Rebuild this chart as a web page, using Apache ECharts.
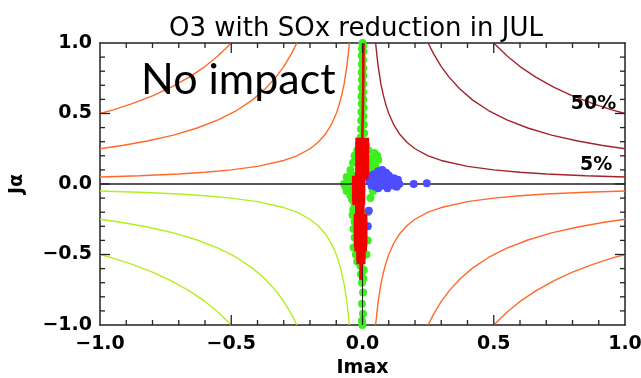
<!DOCTYPE html>
<html><head><meta charset="utf-8">
<script src="https://cdn.jsdelivr.net/npm/echarts@6/dist/echarts.min.js"></script>
<style>html,body{margin:0;padding:0;background:#fff}#c{width:641px;height:378px}</style>
</head><body><div id="c"></div>
<script>
const titleText = 'O3 with SOx reduction in JUL';
const xName = 'Imax';
const yName = 'Jα';
const tickValues = [-1, -0.5, 0, 0.5, 1];
const tickLabels = ['\u22121.0', '\u22120.5', '0.0', '0.5', '1.0'];
const majorTicks = [-0.5, 0, 0.5];
const minorTicks = [-0.9, -0.8, -0.7, -0.6, -0.4, -0.3, -0.2, -0.1, 0.1, 0.2, 0.3, 0.4, 0.6, 0.7, 0.8, 0.9];

// Contour lines read in the upper-right quadrant (the picture shows the same shapes mirrored in the other three)
const c05x = [0.05, 0.055, 0.06, 0.07, 0.08, 0.09, 0.10, 0.12, 0.14, 0.17, 0.20, 0.25, 0.30, 0.40, 0.50, 0.60, 0.70, 0.85, 1.00];
const c05y = [1.00, 0.91, 0.83, 0.71, 0.625, 0.556, 0.50, 0.417, 0.357, 0.294, 0.25, 0.20, 0.167, 0.125, 0.10, 0.083, 0.071, 0.059, 0.05];
const c25x = [0.25, 0.27, 0.30, 0.33, 0.37, 0.42, 0.48, 0.55, 0.63, 0.72, 0.82, 0.91, 1.00];
const c25y = [1.00, 0.926, 0.833, 0.758, 0.676, 0.595, 0.521, 0.455, 0.397, 0.347, 0.305, 0.275, 0.25];
const c50x = [0.50, 0.55, 0.60, 0.66, 0.73, 0.80, 0.88, 0.95, 1.00];
const c50y = [1.00, 0.909, 0.833, 0.758, 0.685, 0.625, 0.568, 0.526, 0.50];

const contourLabels = [[0.88, 0.57, '50%'], [0.89, 0.135, '5%']];

const greenPts = [
  [0.000,1.00],[0.003,0.98],[-0.002,0.96],[0.003,0.94],[-0.003,0.91],[0.002,0.88],[-0.002,0.85],[0.003,0.82],
  [-0.003,0.79],[0.003,0.77],[-0.002,0.74],[0.003,0.71],[-0.003,0.68],[0.002,0.65],[-0.004,0.62],[0.003,0.60],
  [-0.003,0.57],[0.004,0.54],[-0.004,0.51],[0.003,0.48],[-0.005,0.45],[0.005,0.42],[-0.006,0.39],[0.006,0.36],
  [-0.007,0.33],[0.008,0.30],
  [-0.012,0.28],[0.014,0.27],[-0.020,0.24],[0.022,0.24],[0.045,0.22],[0.056,0.20],[0.060,0.17],[-0.030,0.20],
  [0.032,0.18],[-0.036,0.15],[0.036,0.14],[0.050,0.12],[-0.046,0.10],[0.046,0.09],[0.060,0.08],[-0.060,0.05],
  [-0.040,0.06],[0.052,0.05],[0.065,0.04],[-0.070,0.00],[-0.056,0.02],[0.060,0.00],[0.068,0.02],[-0.065,-0.02],
  [0.050,-0.02],[-0.060,-0.05],[0.040,-0.05],[-0.046,-0.08],[-0.040,-0.11],[0.030,-0.10],[-0.030,-0.14],
  [0.035,0.08],[0.030,0.02],[0.035,-0.02],[-0.045,0.03],[-0.050,-0.03],[0.040,0.11],
  [-0.035,-0.18],[-0.038,-0.22],[-0.030,-0.27],[-0.034,-0.32],[-0.030,-0.38],[-0.034,-0.45],[-0.025,-0.50],
  [-0.020,-0.55],[0.020,-0.20],[0.018,-0.30],[0.020,-0.40],[0.015,-0.50],
  [-0.008,-0.58],[0.005,-0.61],[-0.006,-0.64],[0.003,-0.67],[-0.002,-0.70],[0.002,-0.77],[-0.002,-0.85],
  [0.002,-0.92],[-0.002,-0.97],[0.000,-1.00]
];

const redTrail = [[0.004,1.00],[0.003,0.75],[0.001,0.50],[-0.001,0.30]];
const redTail = [[-0.006,-0.55],[-0.007,-0.68]];
const redPts = [
  [-0.012,0.30],[0.010,0.30],[-0.012,0.27],[0.010,0.27],[-0.012,0.24],[0.010,0.24],[-0.012,0.21],[0.010,0.21],
  [-0.012,0.18],[0.010,0.18],[-0.012,0.15],[0.010,0.15],[-0.012,0.12],[0.010,0.12],[-0.012,0.09],[0.010,0.09],
  [-0.014,0.06],[0.008,0.06],
  [-0.025,0.03],[-0.005,0.03],[-0.025,0.00],[-0.005,0.00],[-0.025,-0.03],[-0.005,-0.03],[-0.025,-0.06],[-0.005,-0.06],
  [-0.025,-0.09],[-0.005,-0.09],[-0.024,-0.12],[-0.005,-0.12],
  [-0.013,-0.15],[-0.008,-0.15],[-0.013,-0.18],[-0.008,-0.18],[-0.013,-0.21],[-0.008,-0.21],
  [-0.018,-0.24],[0.003,-0.24],[-0.018,-0.27],[0.003,-0.27],[-0.018,-0.30],[0.003,-0.30],[-0.018,-0.33],[0.003,-0.33],
  [-0.018,-0.36],[0.003,-0.36],[-0.018,-0.39],[0.003,-0.39],[-0.018,-0.42],[0.003,-0.42],[-0.016,-0.45],[0.002,-0.45],
  [-0.008,-0.48],[-0.004,-0.48],[-0.008,-0.51],[-0.004,-0.51],[-0.008,-0.54],[-0.004,-0.54]
];

const bluePts = [
  [0.025,0.03],[0.040,0.05],[0.055,0.06],[0.070,0.08],[0.085,0.06],[0.060,0.02],[0.080,0.02],[0.100,0.03],
  [0.115,0.02],[0.130,0.01],[0.140,0.00],[0.120,-0.01],[0.100,-0.01],[0.075,-0.01],[0.050,-0.02],[0.035,-0.01],
  [0.065,0.04],[0.090,0.04],[0.110,0.00],[0.085,0.00],[0.045,0.01],
  [0.060,0.09],[0.075,0.10],[0.090,0.08],[0.100,0.06],[0.120,0.04],[0.135,0.03],[0.055,0.04],[0.070,0.05],
  [0.045,0.07],[0.030,0.06],[0.130,-0.02],[0.095,-0.03],[0.060,-0.03],
  [0.195,0.00],[0.245,0.005],[0.024,-0.19],[0.020,-0.30]
];

const DARK = '#a3242a', ORANGE = '#ff6a2a', YG = '#b4ee1e';
const GREEN = '#3cf01e', RED = '#f00000', BLUE = '#4d4dff', INK = '#222';

const levels = [[c05x, c05y], [c25x, c25y], [c50x, c50y]];
const quads = [[1, 1, DARK], [-1, 1, ORANGE], [-1, -1, YG], [1, -1, ORANGE]];
const series = [];
quads.forEach(([sx, sy, col]) => {
  levels.forEach(([xs, ys]) => {
    series.push({
      type: 'line', xAxisIndex: 0, yAxisIndex: 0, showSymbol: false, silent: true,
      data: xs.map((x, i) => [sx * x, sy * ys[i]]),
      lineStyle: { color: col, width: 1.4 }, z: 2
    });
  });
});
series.push({
  type: 'line', data: [], silent: true, z: 3,
  markLine: {
    symbol: 'none', silent: true, label: { show: false },
    data: [
      { yAxis: 0, lineStyle: { color: INK, width: 1.6, type: 'solid' } },
      { xAxis: 0, lineStyle: { color: INK, width: 1, type: 'solid' } }
    ]
  }
});
series.push({ type: 'scatter', data: greenPts, symbol: 'circle', symbolSize: 8, itemStyle: { color: GREEN, opacity: 1 }, z: 4, silent: true });
series.push({ type: 'scatter', data: bluePts, symbol: 'circle', symbolSize: 8, itemStyle: { color: BLUE, opacity: 1 }, z: 5, silent: true });
series.push({ type: 'line', data: redTrail, showSymbol: false, lineStyle: { color: RED, width: 2.5 }, z: 6, silent: true });
series.push({ type: 'line', data: redTail, showSymbol: false, lineStyle: { color: RED, width: 3 }, z: 6, silent: true });
series.push({ type: 'scatter', data: redPts, symbol: 'rect', symbolSize: 8, itemStyle: { color: RED, opacity: 1 }, z: 7, silent: true });
series.push({
  type: 'scatter', data: contourLabels, symbolSize: 1, itemStyle: { color: 'rgba(0,0,0,0)', opacity: 1 }, z: 8, silent: true,
  label: { show: true, position: 'inside', formatter: p => p.data[2], color: '#000', opacity: 1,
           fontFamily: 'DejaVu Sans', fontSize: 19, fontWeight: 'bold' }
});

// Inward tick marks on all four edges, placed through the axis scales (api.coord)
const tickData = [].concat(
  majorTicks.map(v => [v, 0, 1, 0]), minorTicks.map(v => [v, 0, 0, 0]),
  majorTicks.map(v => [0, v, 1, 1]), minorTicks.map(v => [0, v, 0, 1])
);
series.push({
  type: 'custom', data: tickData, z: 20, silent: true, clip: false,
  renderItem: (params, api) => {
    const major = api.value(2) === 1;
    const onY = api.value(3) === 1;
    const len = major ? 10 : 5;
    const mk = (x1, y1, x2, y2) => ({ type: 'line', shape: { x1, y1, x2, y2 }, style: { stroke: INK, lineWidth: 1.3 } });
    if (!onY) {
      const v = api.value(0);
      const b = api.coord([v, -1]), t = api.coord([v, 1]);
      return { type: 'group', children: [mk(b[0], b[1], b[0], b[1] - len), mk(t[0], t[1], t[0], t[1] + len)] };
    }
    const v = api.value(1);
    const l = api.coord([-1, v]), r = api.coord([1, v]);
    return { type: 'group', children: [mk(l[0], l[1], l[0] + len, l[1]), mk(r[0], r[1], r[0] - len, r[1])] };
  }
});

const tickFmt = v => { const i = tickValues.findIndex(t => Math.abs(t - v) < 1e-9); return i < 0 ? '' : tickLabels[i]; };
function makeAxis(pos, withLabel, margin) {
  return {
    type: 'value', min: -1, max: 1, interval: 0.5, position: pos,
    axisLine: { show: true, onZero: false, lineStyle: { color: INK, width: 1.5 } },
    axisTick: { show: false },
    splitLine: { show: false },
    axisLabel: withLabel
      ? { show: true, margin: margin, color: '#000', fontFamily: 'DejaVu Sans', fontSize: 19, fontWeight: 'bold',
          formatter: tickFmt, showMinLabel: true, showMaxLabel: true }
      : { show: false }
  };
}
const xMain = makeAxis('bottom', true, 10);
Object.assign(xMain, { name: xName, nameLocation: 'middle', nameGap: 31,
  nameTextStyle: { color: '#000', fontFamily: 'DejaVu Sans', fontSize: 19, fontWeight: 'bold' } });
const yMain = makeAxis('left', true, 8);
Object.assign(yMain, { name: yName, nameLocation: 'middle', nameGap: 73, nameRotate: 90,
  nameTextStyle: { color: '#000', fontFamily: 'DejaVu Sans', fontSize: 19, fontWeight: 'bold' } });

const option = {
  animation: false,
  backgroundColor: '#fff',
  grid: { left: 100, right: 16, top: 43, bottom: 53, containLabel: false, outerBoundsMode: 'none' },
  xAxis: [xMain, makeAxis('top', false, 0)],
  yAxis: [yMain, makeAxis('right', false, 0)],
  graphic: [
    { type: 'text', left: 169, top: 16, z: 100,
      style: { text: titleText, fill: '#000', font: '26px "DejaVu Sans"' } },
    { type: 'text', left: 141, top: 59, z: 100,
      style: { text: 'No impact', fill: '#000', font: '43px Lato' } }
  ],
  series: series
};
const chart = echarts.init(document.getElementById('c'), null, { renderer: 'canvas' });
chart.setOption(option);
</script>
</body></html>
